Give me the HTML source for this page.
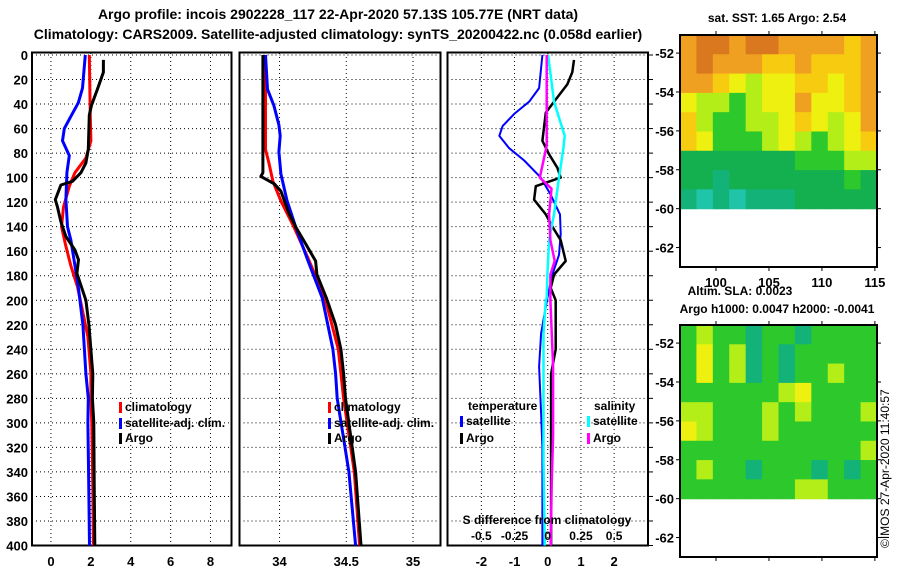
<!DOCTYPE html>
<html><head><meta charset="utf-8">
<style>
html,body{margin:0;padding:0;background:#fff;}
svg{display:block;font-family:"Liberation Sans",Arial,sans-serif;font-weight:bold;}
</style></head>
<body>
<svg id="c" width="900" height="580" viewBox="0 0 900 580">
<text x="338" y="19" text-anchor="middle" font-size="14">Argo profile: incois 2902228_117 22-Apr-2020 57.13S 105.77E (NRT data)</text>
<text x="338" y="39" text-anchor="middle" font-size="14">Climatology: CARS2009. Satellite-adjusted climatology: synTS_20200422.nc (0.058d earlier)</text>
<text x="777" y="22" text-anchor="middle" font-size="12">sat. SST: 1.65 Argo: 2.54</text>
<text x="740" y="295" text-anchor="middle" font-size="12">Altim. SLA: 0.0023</text>
<text x="777" y="313" text-anchor="middle" font-size="12">Argo h1000: 0.0047 h2000: -0.0041</text>
<text transform="translate(889,548) rotate(-90)" font-size="12" font-weight="normal">©IMOS 27-Apr-2020 11:40:57</text>
</svg>
<script>
// ---- data ----
const depthTicks=[0,20,40,60,80,100,120,140,160,180,200,220,240,260,280,300,320,340,360,380,400];
const tTicks=[0,2,4,6,8];
const sTicks=[34,34.5,35];
const dTicks=[-2,-1,0,1,2];
const sDiffTickLabels=["-0.5","-0.25","0","0.25","0.5"];
const sDiffTickVals=[-0.5,-0.25,0,0.25,0.5];

const tArgoDepth=[4,14,28,41,49,77,88,96,103,106,118,124,136,148,159,167,178,200,220,260,280,300,350,400];
const tArgo=[2.63,2.63,2.33,2.03,1.92,1.87,1.75,1.5,1.08,0.5,0.22,0.33,0.5,0.75,1.2,1.38,1.3,1.75,1.9,2.1,2.08,2.15,2.17,2.2];
const tClimDepth=[0,50,70,84,96,107,124,140,156,172,189,210,230,260,280,300,350,400];
const tClim=[1.92,1.97,2.0,1.75,1.2,0.92,0.63,0.53,0.75,1.0,1.33,1.6,1.85,2.0,2.0,2.05,2.1,2.13];
const tSatDepth=[0,27,39,50,60,70,82,96,118,140,151,189,220,260,280,300,360,400];
const tSat=[1.72,1.58,1.37,1.0,0.67,0.58,0.92,0.8,0.75,0.83,1.0,1.37,1.6,1.75,1.87,1.85,1.9,1.93];

const sArgoDepth=[0,50,96,99,105,111,129,140,154,168,179,198,220,240,260,280,340,400];
const sArgo=[33.875,33.875,33.875,33.86,33.96,34.01,34.07,34.12,34.195,34.27,34.28,34.35,34.42,34.46,34.48,34.494,34.57,34.61];
const sClimDepth=[0,77,88,103,119,140,165,198,240,280,340,400];
const sClim=[33.895,33.895,33.92,33.95,34.01,34.107,34.21,34.34,34.44,34.48,34.56,34.6];
const sSatDepth=[0,28,41,57,66,79,97,119,140,167,198,240,260,280,340,400];
const sSat=[33.895,33.91,33.957,33.995,34.005,33.995,34.01,34.057,34.12,34.21,34.32,34.40,34.42,34.432,34.52,34.57];

const dTArgoDepth=[4,14,24,38,47,70,81,92,100,107,118,130,140,151,168,179,190,200,240,260,300,400];
const dTArgo=[0.79,0.74,0.59,0.19,-0.06,-0.16,0.04,0.29,0.39,-0.36,-0.41,-0.06,0.14,0.39,0.54,0.19,0.09,0.24,0.24,0.1,0.1,0.1];
const dTSatDepth=[0,27,38,48,58,66,76,86,100,114,130,146,163,179,198,227,254,292,320,400];
const dTSat=[-0.16,-0.26,-0.56,-1.01,-1.36,-1.46,-1.16,-0.71,-0.21,0.09,0.37,0.39,0.34,0.14,-0.01,-0.2,-0.26,-0.2,-0.16,-0.16];
const dSSatDepth=[0,38,66,76,100,130,151,179,198,200,227,250,330,370,400];
const dSSat=[0.0025,0.047,0.128,0.118,0.085,0.047,0.01,-0.0025,-0.008,-0.015,-0.032,-0.032,-0.032,-0.027,-0.022];
const dSArgoDepth=[0,43,74,100,109,130,151,168,179,200,254,310,350,400];
const dSArgo=[-0.008,-0.008,-0.008,-0.06,0.028,0.01,0.02,0.052,0.02,0.02,0.04,0.04,0.03,0.022];

const latTicks=[-52,-54,-56,-58,-60,-62];
const lonTicks=[100,105,110,115];
const sstGrid=[
[1,0,0,1,0,0,1,1,1,1,2,1],
[1,0,1,1,1,2,2,1,2,2,2,1],
[1,1,2,3,4,3,3,2,2,3,2,1],
[3,4,4,5,4,3,3,1,3,3,2,1],
[2,4,5,5,4,4,3,2,3,4,3,1],
[2,3,5,5,5,4,3,4,5,4,3,2],
[6,6,6,6,6,6,6,5,5,5,4,4],
[6,6,7,6,6,6,6,6,6,6,5,6],
[7,8,7,8,7,7,7,6,6,6,6,6]];
const slaGrid=[
[5,4,5,5,7,5,5,7,5,5,5,5],
[5,3,5,4,7,5,7,5,5,5,5,5],
[5,3,5,4,7,5,7,5,5,4,5,5],
[5,5,5,5,5,5,4,3,5,5,5,5],
[4,4,5,5,5,4,5,4,5,5,5,4],
[3,4,5,5,5,4,5,5,5,5,5,5],
[5,5,5,5,5,5,5,5,5,5,5,4],
[5,4,5,5,7,5,5,5,7,5,7,5],
[5,5,5,5,5,5,5,4,4,5,5,5]];
const palette=["#d9781e","#f0a020","#f7cc10","#eef010","#b4ee18","#2cc82c","#14b050","#12b278","#20c4a8"];

// ---- drawing ----
const NS="http://www.w3.org/2000/svg";
const svg=document.getElementById('c');
function mk(tag,attrs,parent){const e=document.createElementNS(NS,tag);for(const k in attrs)e.setAttribute(k,attrs[k]);(parent||svg).appendChild(e);return e;}
const Y0=55,Y1=545.5;
const yD=d=>Y0+(Y1-Y0)*d/400;

function panel(name,x0,x1,vmin,vmax,ticks,tickLabels,showDepth){
  const xs=v=>x0+(v-vmin)/(vmax-vmin)*(x1-x0);
  const g=mk('g',{});
  
  
  depthTicks.forEach(d=>{
    const l=mk('line',{x1:x0,x2:x1,y1:yD(d),y2:yD(d),stroke:'#000','stroke-width':1,'stroke-dasharray':'1,3'},g);
    
    
    if(showDepth){
      const t=mk('text',{x:28,y:yD(d)+5,'text-anchor':'end','font-size':13},g);
      t.textContent=d;
      
      
    }
  });
  ticks.forEach((v,i)=>{
    const l=mk('line',{x1:xs(v),x2:xs(v),y1:Y0-2,y2:Y1,stroke:'#000','stroke-width':1,'stroke-dasharray':'1,3'},g);
    
    
    const t=mk('text',{x:xs(v),y:566,'text-anchor':'middle','font-size':13},g);
    t.textContent=tickLabels[i];
    
    
  });
  const r=mk('rect',{x:x0,y:Y0-2.5,width:x1-x0,height:Y1-Y0+2.5,fill:'none',stroke:'#000','stroke-width':2},g);
  
  
  return {g,xs};
}
function line(p,vals,depths,color,w,name,scale){
  scale=scale||1;
  const pts=vals.map((v,i)=>p.xs(v*scale).toFixed(1)+','+yD(depths[i]).toFixed(1)).join(' ');
  const pl=mk('polyline',{points:pts,fill:'none',stroke:color,'stroke-width':w,'stroke-linejoin':'round'},p.g);
  
  
}
function legend(p,x,y,color,label,name){
  const r=mk('rect',{x:x,y:y-9,width:3,height:11,fill:color},p.g);
  
  
  const t=mk('text',{x:x+6,y:y,'font-size':12},p.g);
  t.textContent=label;
  
  
}

const p1=panel('temperature-panel',32,231.5,-0.95,9.05,tTicks,tTicks.map(String),true);
line(p1,tClim,tClimDepth,'#f00',3,'temp-climatology-line');
line(p1,tSat,tSatDepth,'#00f',3,'temp-satellite-adj-line');
line(p1,tArgo,tArgoDepth,'#000',3,'temp-argo-line');
legend(p1,119,411,'#f00','climatology','legend-climatology');
legend(p1,119,427,'#00f','satellite-adj. clim.','legend-satellite-adj');
legend(p1,119,442,'#000','Argo','legend-argo');

const p2=panel('salinity-panel',239.5,440.5,33.7,35.206,sTicks,["34","34.5","35"],false);
line(p2,sClim,sClimDepth,'#f00',3,'sal-climatology-line');
line(p2,sSat,sSatDepth,'#00f',3,'sal-satellite-adj-line');
line(p2,sArgo,sArgoDepth,'#000',3,'sal-argo-line');
legend(p2,328,411,'#f00','climatology','legend2-climatology');
legend(p2,328,427,'#00f','satellite-adj. clim.','legend2-satellite-adj');
legend(p2,328,442,'#000','Argo','legend2-argo');

const p3=panel('difference-panel',447.5,648,-3.02,3.02,dTicks,dTicks.map(String),false);
depthTicks.forEach(d=>{const l=mk('line',{x1:648,x2:653,y1:yD(d),y2:yD(d),stroke:'#000','stroke-width':1},p3.g);

});
line(p3,dTSat,dTSatDepth,'#00f',2,'tdiff-satellite-line');
line(p3,dTArgo,dTArgoDepth,'#000',2.5,'tdiff-argo-line');
line(p3,dSSat,dSSatDepth,'#0ff',2.5,'sdiff-satellite-line',4);
line(p3,dSArgo,dSArgoDepth,'#f0f',2.5,'sdiff-argo-line',4);
[['temperature',468,405],['salinity',594,405]].forEach(a=>{const t=mk('text',{x:a[1],y:a[2]+5,'font-size':12},p3.g);t.textContent=a[0];

});
legend(p3,460,425,'#00f','satellite','legend-temp-satellite');
legend(p3,460,442,'#000','Argo','legend-temp-argo');
legend(p3,587,425,'#0ff','satellite','legend-sal-satellite');
legend(p3,587,442,'#f0f','Argo','legend-sal-argo');
{const t=mk('text',{x:547,y:524,'text-anchor':'middle','font-size':12},p3.g);t.textContent='S difference from climatology';

}
sDiffTickVals.forEach((v,i)=>{const t=mk('text',{x:p3.xs(v*4),y:540,'text-anchor':'middle','font-size':12},p3.g);t.textContent=sDiffTickLabels[i];

});

function map(name,top,grid,lonLabels){
  const L=680,R=877,B=top+232;
  const latY=la=>top+( -51.07-la)/( -51.07+63.0)*(B-top);
  const lonX=lo=>L+(lo-96.6)/(115.2-96.6)*(R-L);
  const g=mk('g',{});
  
  
  const rows=grid.length,cols=grid[0].length,yb=latY(-60);
  const cw=(R-L)/cols,ch=(yb-top)/rows;
  grid.forEach((row,i)=>row.forEach((c,j)=>{
    const r=mk('rect',{x:(L+j*cw).toFixed(2),y:(top+i*ch).toFixed(2),width:(cw+0.6).toFixed(2),height:(ch+0.6).toFixed(2),fill:palette[c]},g);
    
    
  }));
  const f=mk('rect',{x:L,y:top,width:R-L,height:B-top,fill:'none',stroke:'#000','stroke-width':2},g);
  
  
  latTicks.forEach(la=>{
    mk('line',{x1:L-4,x2:L,y1:latY(la),y2:latY(la),stroke:'#000'},g);
    mk('line',{x1:R,x2:R+4,y1:latY(la),y2:latY(la),stroke:'#000'},g);
    const t=mk('text',{x:L-6,y:latY(la)+5,'text-anchor':'end','font-size':13},g);
    t.textContent=la;
    
    
  });
  lonTicks.forEach(lo=>{
    mk('line',{x1:lonX(lo),x2:lonX(lo),y1:top-4,y2:top,stroke:'#000'},g);
    mk('line',{x1:lonX(lo),x2:lonX(lo),y1:B,y2:B+4,stroke:'#000'},g);
    if(lonLabels){const t=mk('text',{x:lonX(lo),y:B+20,'text-anchor':'middle','font-size':13},g);
      t.textContent=lo;
      
      }
  });
}
map('sst-map',35,sstGrid,true);
map('sla-map',325,slaGrid,false);
</script>
</body></html>
